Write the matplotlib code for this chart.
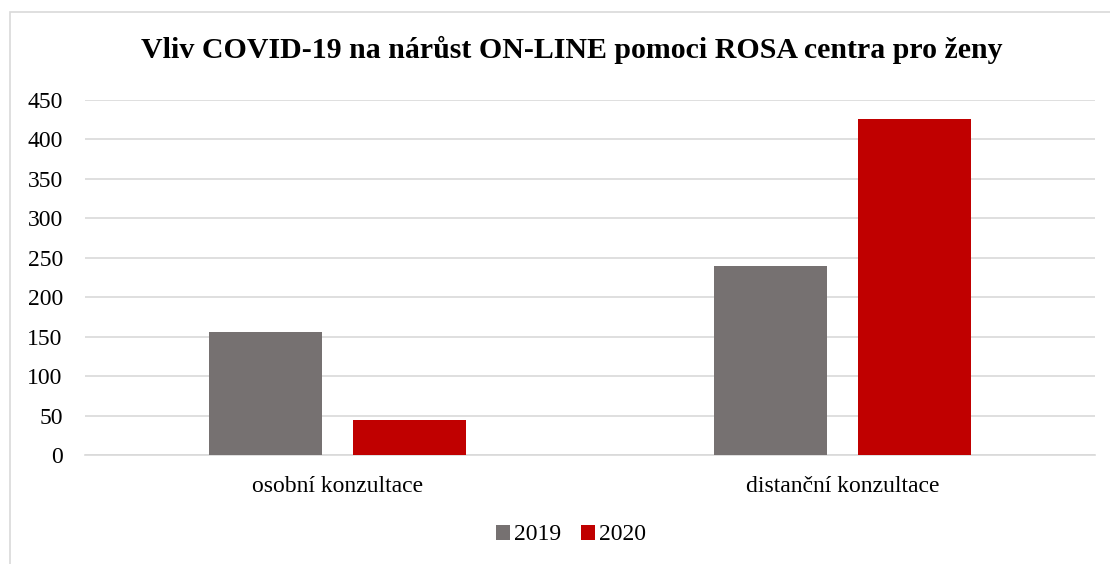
import matplotlib
matplotlib.use("Agg")
import matplotlib.pyplot as plt
from matplotlib.patches import Rectangle
import numpy as np

categories = ["osobní konzultace", "distanční konzultace"]
series_names = ["2019", "2020"]
values_2019 = [156, 240]
values_2020 = [44, 426]
y_ticks = [0, 50, 100, 150, 200, 250, 300, 350, 400, 450]

plt.rcParams['font.family'] = ['Liberation Serif', 'DejaVu Serif']

fig = plt.figure(figsize=(11.1, 5.64), dpi=100)
fig.patches.append(Rectangle((10 / 1110, -0.1), 1.2, 1 - 12 / 564 + 0.1,
                             transform=fig.transFigure, fill=False,
                             edgecolor="#D9D9D9", linewidth=1.2))
ax = fig.add_axes([85 / 1110, 1 - 455 / 564, 1010 / 1110, 355 / 564])

x = np.arange(len(categories))
w = 0.224
off = 0.1426
ax.bar(x - off, values_2019, w, color="#767171", label=series_names[0], zorder=3)
ax.bar(x + off, values_2020, w, color="#C00000", label=series_names[1], zorder=3)

ax.set_xlim(-0.5, 1.5)
ax.set_ylim(0, 450)
ax.set_yticks(y_ticks)
ax.set_xticks(x)
ax.set_xticklabels(categories)
ax.grid(axis="y", color="#D9D9D9", linewidth=1.2, zorder=0)
for s in ["top", "right", "left"]:
    ax.spines[s].set_visible(False)
ax.spines["bottom"].set_color("#D9D9D9")
ax.spines["bottom"].set_linewidth(1.2)
ax.tick_params(axis="both", length=0, labelsize=17, colors="#000000")
ax.tick_params(axis="y", pad=16)
ax.tick_params(axis="x", pad=15)

fig.text(572 / 1110, 1 - 50 / 564, "Vliv COVID-19 na nárůst ON-LINE pomoci ROSA centra pro ženy",
         ha="center", va="center", fontsize=21.5, fontweight="bold")

fig.legend(loc="center", bbox_to_anchor=(571 / 1110, 1 - 535 / 564), ncol=2,
           frameon=False, fontsize=17, handlelength=0.6, handleheight=0.6,
           handletextpad=0.2, columnspacing=0.8)

fig.savefig("out.png", dpi=100)
